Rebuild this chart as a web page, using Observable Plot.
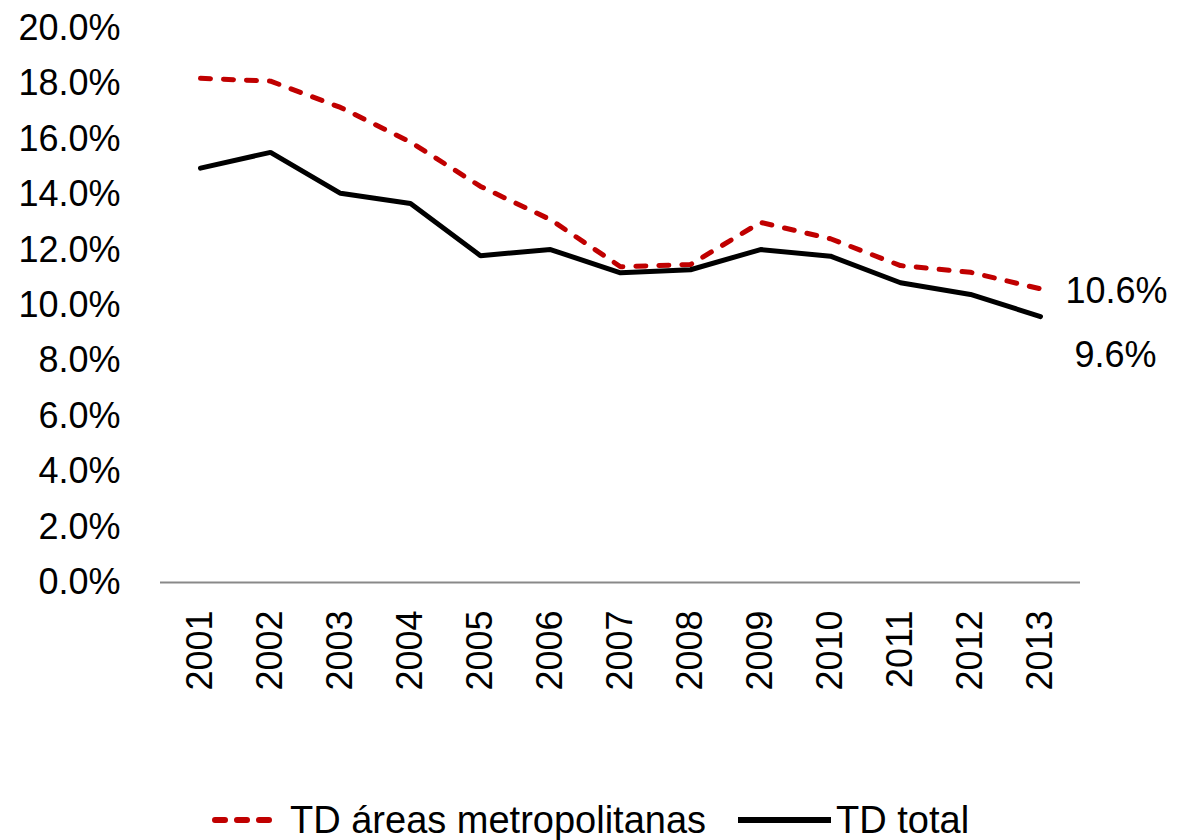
<!DOCTYPE html>
<html>
<head>
<meta charset="utf-8">
<script src="https://cdn.jsdelivr.net/npm/d3@7"></script>
<script src="https://cdn.jsdelivr.net/npm/@observablehq/plot@0.6"></script>
<style>
  html, body { margin: 0; padding: 0; background: #fff; overflow: hidden; width: 1178px; height: 840px; }
  body { font-family: "Liberation Sans", Arial, sans-serif; }
  #legend { display: flex; align-items: center; height: 50px; padding-left: 212px; font-size: 38px; color: #000; }
  #legend svg { display: block; }
</style>
</head>
<body>
<div id="chart"></div>
<div id="legend"></div>
<script>
const years = ["2001","2002","2003","2004","2005","2006","2007","2008","2009","2010","2011","2012","2013"];
const metro = [18.2, 18.1, 17.15, 15.9, 14.3, 13.1, 11.4, 11.48, 13.0, 12.41, 11.44, 11.2, 10.6];
const total = [14.96, 15.53, 14.05, 13.68, 11.8, 12.02, 11.18, 11.29, 12.02, 11.78, 10.82, 10.4, 9.6];
const yTicks = [0, 2, 4, 6, 8, 10, 12, 14, 16, 18, 20];
const seriesNames = ["TD áreas metropolitanas", "TD total"];

const data = years.map((y, i) => ({year: y, metro: metro[i], total: total[i]}));
const last = data[data.length - 1];
const fmt = v => v.toFixed(1) + "%";

const H = 780;
const chart = Plot.plot({
  width: 1178,
  height: H,
  marginLeft: 160,
  marginRight: 98,
  marginTop: 28,
  marginBottom: H - 582,
  style: {fontFamily: "Liberation Sans, Arial, sans-serif", fontSize: "36px", color: "#000", background: "#fff"},
  x: {type: "point", domain: years, padding: 0.5},
  y: {domain: [0, 20]},
  marks: [
    Plot.axisY({ticks: yTicks, tickFormat: fmt, tickSize: 0, tickPadding: 40, fontSize: 36, label: null}),
    Plot.axisX({tickRotate: -90, tickSize: 0, tickPadding: 28, fontSize: 36, label: null}),
    Plot.ruleY([0], {stroke: "#898989", strokeWidth: 2}),
    Plot.line(data, {x: "year", y: "metro", stroke: "#C00000", strokeWidth: 5, strokeDasharray: "10,13", strokeLinecap: "round"}),
    Plot.line(data, {x: "year", y: "total", stroke: "#000", strokeWidth: 5, strokeLinejoin: "miter"}),
    Plot.text([last], {x: "year", y: "metro", text: d => fmt(d.metro), dx: 25, dy: 3, textAnchor: "start", fontSize: 36, fill: "#000"}),
    Plot.text([last], {x: "year", y: "total", text: d => fmt(d.total), dx: 34, dy: 39, textAnchor: "start", fontSize: 36, fill: "#000"})
  ]
});
document.getElementById("chart").appendChild(chart);

const legend = document.getElementById("legend");
legend.style.marginTop = "15px";
legend.innerHTML = `
  <svg width="63" height="10"><line x1="3" y1="5" x2="60" y2="5" stroke="#C00000" stroke-width="6" stroke-dasharray="10,12" stroke-linecap="round"/></svg>
  <span style="margin-left:15px">${seriesNames[0]}</span>
  <svg width="93" height="10" style="margin-left:32px"><line x1="0" y1="5" x2="93" y2="5" stroke="#000" stroke-width="6"/></svg>
  <span style="margin-left:5px">${seriesNames[1]}</span>`;
</script>
</body>
</html>
